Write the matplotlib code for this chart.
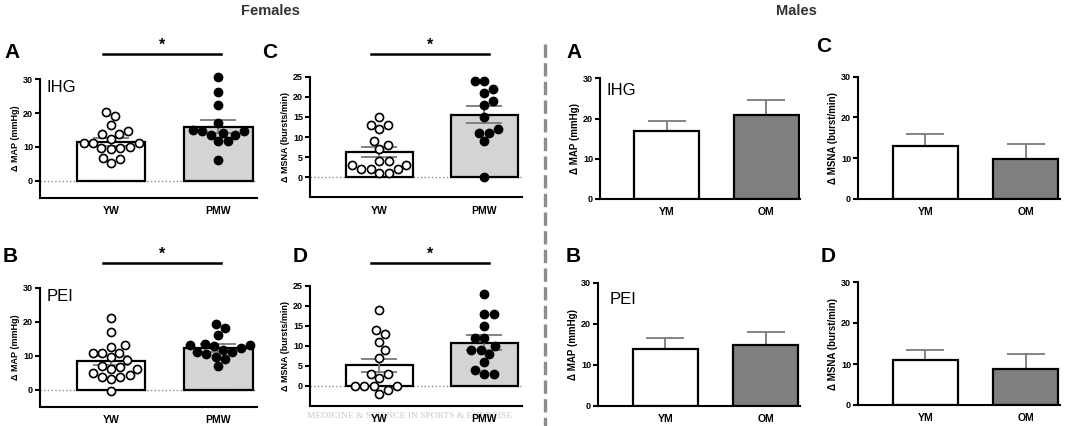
import matplotlib
matplotlib.use('Agg')
import matplotlib.pyplot as plt
import numpy as np

plt.rcParams['font.family'] = ['Liberation Sans', 'DejaVu Sans']

W, H = 1065, 426

# ---- Females: individual values ----
ihg_map_yw = [20.4, 19.1, 16.5, 14.7, 13.7, 13.7, 12.4, 11.1, 11.1, 11.1, 9.9, 9.6, 9.6, 9.3, 6.6, 6.3, 5.1]
ihg_map_pmw = [30.8, 26.2, 22.4, 17.0, 15.0, 14.6, 14.6, 14.2, 13.5, 13.5, 11.7, 11.7, 6.1]
ihg_msna_yw = [15, 13, 13, 12, 9, 8, 7, 4, 4, 3, 3, 2, 2, 2, 1, 1]
ihg_msna_pmw = [24, 24, 22, 21, 19, 18, 15, 12, 11, 11, 9, 0]
pei_map_yw = [21.2, 16.9, 13.2, 12.7, 10.9, 10.9, 10.9, 9.6, 8.8, 7.1, 6.8, 6.2, 6.2, 4.9, 4.5, 3.9, 3.7, 3.2, -0.3]
pei_map_pmw = [19.3, 18.1, 16.1, 13.4, 13.2, 13.2, 12.9, 12.2, 11.7, 11.2, 11.0, 10.5, 9.8, 9.0, 7.1]
pei_msna_yw = [19, 14, 13, 11, 9, 7, 3, 3, 2, 0, 0, 0, 0, -1, -2]
pei_msna_pmw = [23, 18, 18, 15, 12, 12, 10, 9, 9, 8, 6, 4, 3, 3]

female_groups = ['YW', 'PMW']
# bar heights and SEM (A, C, B, D)
fem_means = {'A': [11.5, 16.0], 'C': [6.3, 15.5], 'B': [8.6, 12.3], 'D': [5.1, 10.8]}
fem_sems = {'A': [1.1, 2.0], 'C': [1.3, 2.1], 'B': [1.4, 1.1], 'D': [1.7, 1.9]}

# ---- Males: means and SEM ----
male_groups = ['YM', 'OM']
male_means = {'A': [17.0, 21.0], 'C': [13.0, 9.8], 'B': [13.8, 14.8], 'D': [11.0, 8.9]}
male_sems = {'A': [2.5, 3.5], 'C': [3.0, 3.6], 'B': [2.7, 3.2], 'D': [2.5, 3.6]}

fig = plt.figure(figsize=(W / 100, H / 100), dpi=100)


def px_axes(left, right, top, bottom):
    return fig.add_axes([left / W, 1 - bottom / H, (right - left) / W, (bottom - top) / H])


def style_axes(ax):
    for s in ['top', 'right']:
        ax.spines[s].set_visible(False)
    for s in ['left', 'bottom']:
        ax.spines[s].set_linewidth(1.5)
    ax.tick_params(axis='y', direction='out', length=3.5, width=1.5, labelsize=6.5, pad=1.5)
    ax.tick_params(axis='x', length=0, labelsize=7.5, pad=6)
    for t in ax.get_yticklabels() + ax.get_xticklabels():
        t.set_fontweight('bold')
    ax.patch.set_visible(False)


def swarm_offsets(ax, vals, diam):
    # simple beeswarm, in pixels, turned back into data units
    ys = ax.transData.transform(np.column_stack([np.zeros(len(vals)), vals]))[:, 1]
    xs = np.zeros(len(vals))
    placed = []
    for i in np.argsort(ys):
        y = ys[i]
        cands = [0.0]
        for px, py in placed:
            dy = abs(y - py)
            if dy < diam:
                dx = np.sqrt(diam ** 2 - dy ** 2)
                cands += [px + dx, px - dx]
        cands.sort(key=abs)
        for c in cands:
            if all((c - px) ** 2 + (y - py) ** 2 >= diam ** 2 - 1e-6 for px, py in placed):
                xs[i] = c
                break
        placed.append((xs[i], y))
    x0 = ax.transData.transform((0, 0))[0]
    x1 = ax.transData.transform((1, 0))[0]
    return xs / (x1 - x0)


def female_panel(box, key, yw, pmw, ymax, yticks, ylabel, letter, letter_xy, cond=None, star_y=None):
    ax = px_axes(*box)
    ax.set_xlim(-0.66, 1.36)
    ax.set_ylim(-5, ymax)
    ax.bar([0, 1], fem_means[key], width=0.64, color=['white', '#d4d4d4'],
           edgecolor='black', linewidth=1.6, zorder=2)
    ax.axhline(0, color='#888888', linestyle=':', linewidth=1.0, zorder=1)
    ax.errorbar([0, 1], fem_means[key], yerr=fem_sems[key], fmt='none', ecolor='#7a7a7a',
                elinewidth=1.3, capsize=13, capthick=1.3, zorder=3)
    for i, (vals, fc) in enumerate([(yw, 'white'), (pmw, 'black')]):
        off = swarm_offsets(ax, vals, 9.6)
        ax.scatter(i + off, vals, s=34, facecolor=fc, edgecolor='black', linewidth=1.2,
                   zorder=4, clip_on=False)
    ax.set_yticks(yticks)
    ax.set_xticks([0, 1])
    ax.set_xticklabels(female_groups)
    ax.spines['left'].set_bounds(-5, ymax)
    style_axes(ax)
    ax.set_ylabel(ylabel, fontsize=6.5, fontweight='bold', labelpad=2)
    if cond:
        ax.text(0.03, 0.93, cond, transform=ax.transAxes, fontsize=12, va='center', ha='left')
    # significance bracket
    left, right, top, bottom = box
    fig.add_artist(plt.Line2D([(left + 0.337 * (right - left) - 10) / W, (left + 0.337 * (right - left) + 108) / W],
                              [1 - star_y / H] * 2, color='black', linewidth=1.8))
    fig.text((left + 0.337 * (right - left) + 49) / W, 1 - (star_y - 1) / H, '*', fontsize=11.5,
             fontweight='bold', ha='center', va='bottom')
    fig.text(letter_xy[0] / W, 1 - letter_xy[1] / H, letter, fontsize=15, fontweight='bold',
             ha='center', va='center')
    return ax


def male_panel(box, key, ylabel, letter, letter_xy, cond=None):
    ax = px_axes(*box)
    ax.set_xlim(-0.67, 1.34)
    ax.set_ylim(0, 30)
    ax.bar([0, 1], male_means[key], width=0.65, color=['white', '#7f7f7f'],
           edgecolor='black', linewidth=1.6, zorder=2)
    ax.errorbar([0, 1], male_means[key], yerr=[[0, 0], male_sems[key]], fmt='none',
                ecolor='#7a7a7a', elinewidth=1.3, capsize=14, capthick=1.3, zorder=1)
    ax.set_yticks([0, 10, 20, 30])
    ax.set_xticks([0, 1])
    ax.set_xticklabels(male_groups)
    style_axes(ax)
    ax.set_ylabel(ylabel, fontsize=7, fontweight='bold', labelpad=2)
    if cond:
        ax.text(0.03 if key == 'A' else 0.06, 0.86 if key == 'B' else 0.9, cond,
                transform=ax.transAxes, fontsize=12, va='center', ha='left')
    fig.text(letter_xy[0] / W, 1 - letter_xy[1] / H, letter, fontsize=15, fontweight='bold',
             ha='center', va='center')
    return ax


female_panel((40, 257, 79.3, 197.6), 'A', ihg_map_yw, ihg_map_pmw, 30, [0, 10, 20, 30],
             '\u0394 MAP (mmHg)', 'A', (12, 52), cond='IHG', star_y=54)
female_panel((310, 522, 76.7, 197.4), 'C', ihg_msna_yw, ihg_msna_pmw, 25, [0, 5, 10, 15, 20, 25],
             '\u0394 MSNA (bursts/min)', 'C', (270, 52), star_y=54)
female_panel((40, 257, 287.7, 407), 'B', pei_map_yw, pei_map_pmw, 30, [0, 10, 20, 30],
             '\u0394 MAP (mmHg)', 'B', (10, 256), cond='PEI', star_y=263)
female_panel((310, 522, 285.7, 406), 'D', pei_msna_yw, pei_msna_pmw, 25, [0, 5, 10, 15, 20, 25],
             '\u0394 MSNA (bursts/min)', 'D', (300, 256), star_y=263)

male_panel((600, 800, 78.3, 199), 'A', '\u0394 MAP (mmHg)', 'A', (574, 52), cond='IHG')
male_panel((858, 1060, 76.7, 199), 'C', '\u0394 MSNA (burst/min)', 'C', (824, 47))
male_panel((598, 800, 282.7, 405.7), 'B', '\u0394 MAP (mmHg)', 'B', (573, 256), cond='PEI')
male_panel((858, 1060, 282, 405), 'D', '\u0394 MSNA (burst/min)', 'D', (828, 256))

fig.text(270 / W, 1 - 11 / H, 'Females', fontsize=10.5, fontweight='bold', color='#333333',
         ha='center', va='center')
fig.text(796 / W, 1 - 11 / H, 'Males', fontsize=10.5, fontweight='bold', color='#333333',
         ha='center', va='center')

# dashed divider
fig.add_artist(plt.Line2D([545 / W, 545 / W], [1 - 44 / H, 0], color='#8c8c8c', linewidth=2.4,
                          linestyle=(0, (4, 1.6))))

# journal watermark, sits behind the x labels as in the source
fig.text(410 / W, 1 - 416 / H, 'MEDICINE & SCIENCE IN SPORTS & EXERCISE', fontsize=6.8,
         family='Liberation Serif', color='#c8c8c8', ha='center', va='center', zorder=-1)

fig.savefig('out.png', dpi=100)
